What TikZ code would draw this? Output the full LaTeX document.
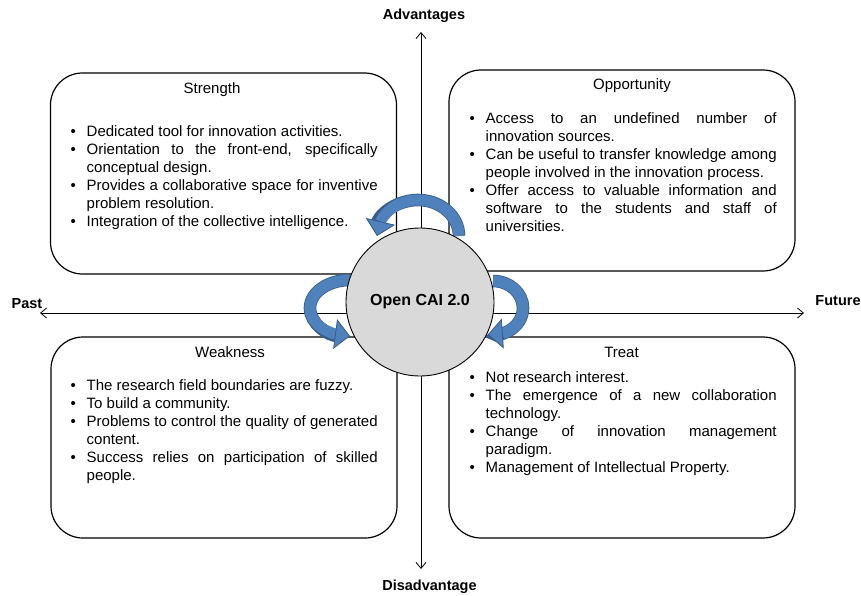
\documentclass[tikz,border=0pt]{standalone}
\usepackage{fontspec}
\setmainfont{Liberation Sans}
\usepackage{tikz}
\usetikzlibrary{arrows.meta}
\usetikzlibrary{bending}
\usetikzlibrary{positioning}

\definecolor{arrowfill}{HTML}{4F81BD}
\definecolor{arrowedge}{HTML}{385D8A}
\definecolor{hubgray}{HTML}{D9D9D9}

\tolerance=9999
\hbadness=10000
\hyphenpenalty=10000
\exhyphenpenalty=10000

% one bullet entry of a quadrant list
\newcommand{\pitem}[1]{\par\noindent\hangindent=17pt\hangafter=1%
  \makebox[17pt][l]{\hspace{1pt}\textbullet}#1\par}

\tikzset{
  quadbox/.style={draw, line width=1.2pt, rounded corners=32pt, minimum width=346pt, minimum height=201pt, inner sep=0pt},
  quadtitle/.style={anchor=base, inner sep=0pt, font=\fontsize{15}{18}\selectfont},
  itemlist/.style={anchor=base west, inner sep=0pt, text width=308pt, align=justify, font=\fontsize{15}{18}\selectfont},
  axislabel/.style={anchor=base, inner sep=0pt, font=\fontsize{14.5}{17}\selectfont\bfseries},
  axis/.style={line width=0.8pt, {Straight Barb[length=6pt,width=10pt]}-{Straight Barb[length=6pt,width=10pt]}},
  loop arrow/.style={line width=11pt, draw=arrowfill,
    -{Triangle[length=15pt 0,width=30pt 0,line width=0.8pt,fill=arrowfill,color=arrowedge]},
    preaction={draw=arrowedge, line width=12.6pt, shorten >=12pt, -}},
  hub/.style={circle, draw, line width=0.9pt, fill=hubgray, minimum size=148pt, inner sep=0pt, font=\fontsize{16}{19}\selectfont\bfseries}
}

\begin{document}
\begin{tikzpicture}[x=1pt,y=1pt,yscale=-1,xscale=1]
\useasboundingbox (0,0) rectangle (861,596);

% quadrants
\node[quadbox] (strength) at (223.5,173.5) {};
\node[quadbox] (opportunity) at (622,170.5) {};
\node[quadbox] (weakness) at (224,437.5) {};
\node[quadbox] (treat) at (622,437.5) {};

\node[quadtitle] (strength-title) at (212,93.5) {Strength};
\node[quadtitle] (opportunity-title) at (632,89.5) {Opportunity};
\node[quadtitle] (weakness-title) at (230,357.5) {Weakness};
\node[quadtitle] (treat-title) at (621.5,357.5) {Treat};

\node[itemlist] (strength-list) at (69.5,118.5) {%
  \pitem{Dedicated tool for innovation activities.}
  \pitem{Orientation to the front-end, specifically \linebreak conceptual design.}
  \pitem{Provides a collaborative space for inventive \linebreak problem resolution.}
  \pitem{Integration of the collective intelligence.}};
\node[itemlist] (opportunity-list) at (468.5,105.5) {%
  \pitem{Access to an undefined number of \linebreak innovation sources.}
  \pitem{Can be useful to transfer knowledge among \linebreak people involved in the innovation process.}
  \pitem{Offer access to valuable information and \linebreak software to the students and staff of \linebreak universities.}};
\node[itemlist] (weakness-list) at (69.5,372.5) {%
  \pitem{The research field boundaries are fuzzy.}
  \pitem{To build a community.}
  \pitem{Problems to control the quality of generated \linebreak content.}
  \pitem{Success relies on participation of skilled \linebreak people.}};
\node[itemlist] (treat-list) at (468.5,364.5) {%
  \pitem{Not research interest.}
  \pitem{The emergence of a new collaboration \linebreak technology.}
  \pitem{Change of innovation management \linebreak paradigm.}
  \pitem{Management of Intellectual Property.}};

% axes
\coordinate (past) at (40,313);
\coordinate (future) at (804,313);
\coordinate (adv) at (421,32);
\coordinate (disadv) at (421,569);
\draw[axis] (past) -- (future);
\draw[axis] (disadv) -- (adv);

\node[axislabel] (adv-label) at (424,20) {Advantages};
\node[axislabel] (disadv-label) at (429.5,590) {Disadvantage};
\node[axislabel] (past-label) at (27,308) {Past};
\node[axislabel] (future-label) at (838,305) {Future};

% curved arrows round the hub
\draw[loop arrow] (459,236) arc[start angle=0, end angle=-180, x radius=41, y radius=36];
\draw[loop arrow] (350,280) arc[start angle=-90, end angle=-270, x radius=40, y radius=28];
\draw[loop arrow] (493,281) arc[start angle=-90, end angle=100, x radius=30, y radius=27];

\node[hub] (hub) at (420,302) {Open CAI 2.0};
\end{tikzpicture}
\end{document}
